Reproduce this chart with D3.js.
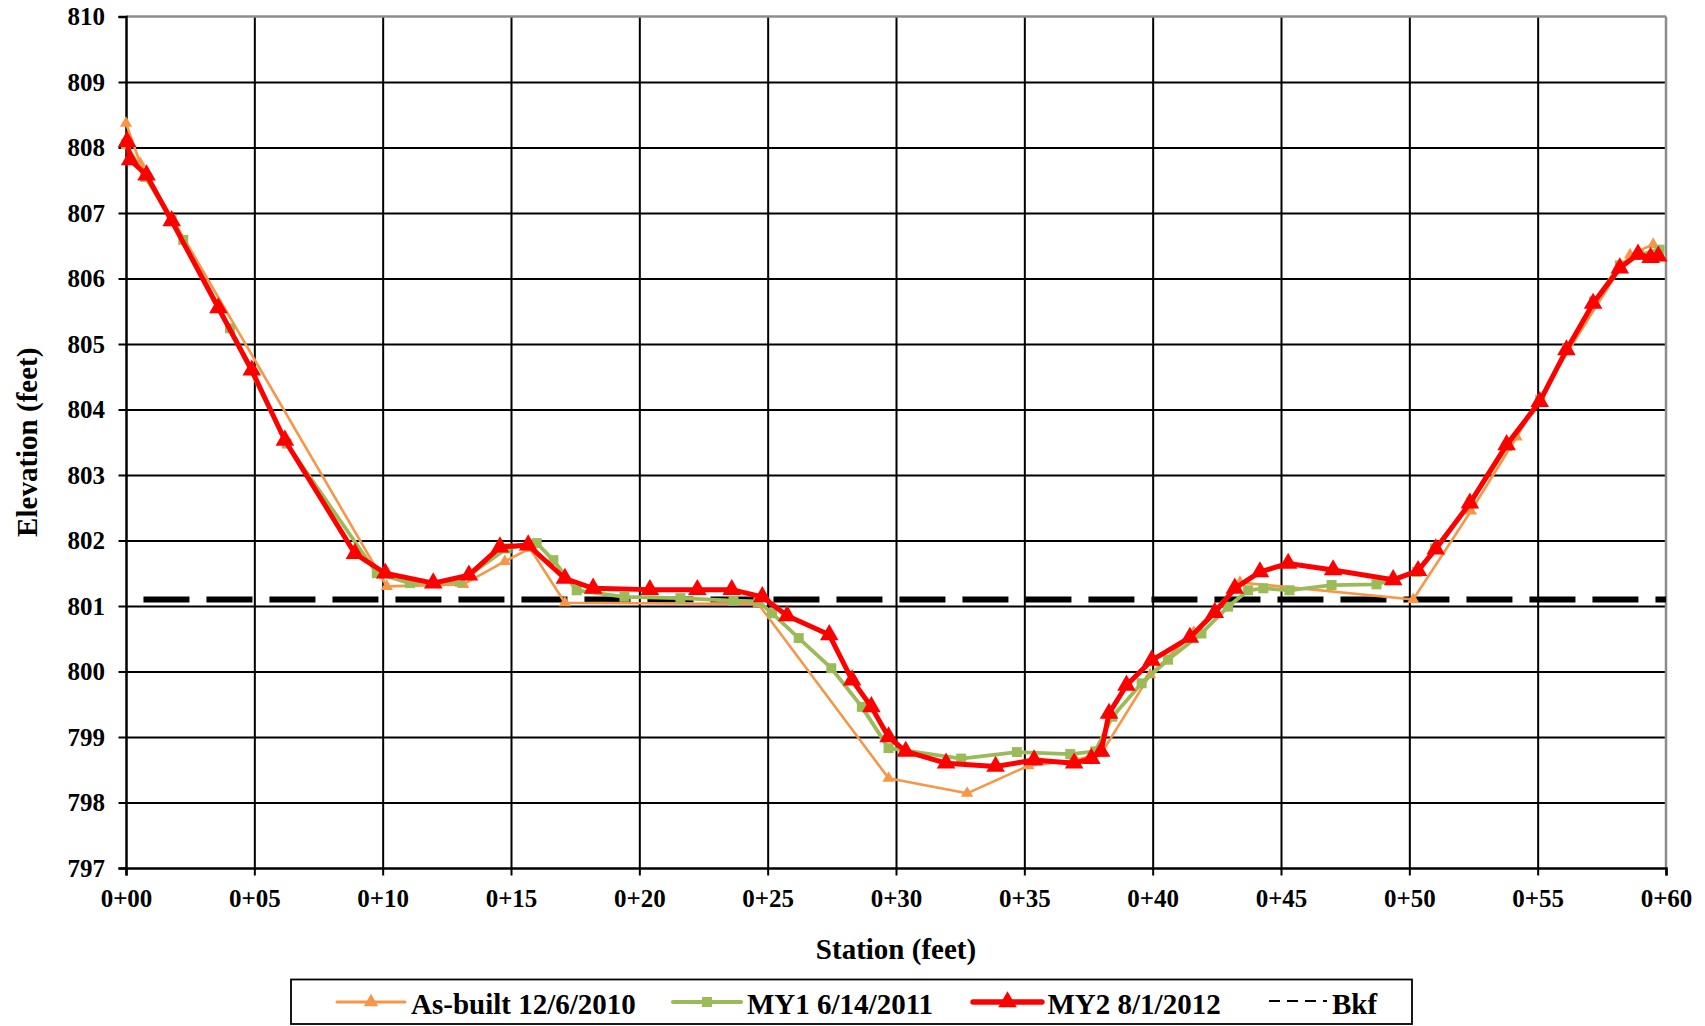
<!DOCTYPE html>
<html><head><meta charset="utf-8">
<script src="https://cdn.jsdelivr.net/npm/d3@7"></script>
<style>
body{margin:0;background:#fff}
svg{display:block}
text{font-family:"Liberation Serif","Times New Roman",serif !important;font-weight:bold;fill:#000}
</style>
</head><body>
<svg id="c" width="1705" height="1026"></svg>
<script>
// ---------------- data ----------------
const xTicks = [0,5,10,15,20,25,30,35,40,45,50,55,60];
const xTickLabels = ["0+00","0+05","0+10","0+15","0+20","0+25","0+30","0+35","0+40","0+45","0+50","0+55","0+60"];
const yTicks = [797,798,799,800,801,802,803,804,805,806,807,808,809,810];
const yTickLabels = ["797","798","799","800","801","802","803","804","805","806","807","808","809","810"];

const seriesNames = ["As-built 12/6/2010","MY1 6/14/2011","MY2 8/1/2012","Bkf"];

const asBuiltStation = [0,0.55,10.16,13.14,14.76,15.74,17.1,24.64,29.71,32.77,35.15,37.0,38.0,39.9,41.6,43.4,50.15,52.4,54.18,56.2,58.2,58.6,59.5];
const asBuiltElev    = [808.37,807.76,801.3,801.33,801.68,801.88,801.05,801.03,798.37,798.14,798.56,798.65,798.75,799.95,800.6,801.36,801.1,802.45,803.58,804.9,806.15,806.36,806.52];

const my1Station = [0,0.75,1.78,2.23,4.05,6.26,9.77,11.06,13.01,14.83,16.0,16.65,17.56,19.42,21.6,23.67,24.64,25.17,26.21,27.48,28.67,29.71,32.54,34.71,36.79,37.76,38.43,39.57,40.6,41.9,42.94,43.72,44.31,45.33,46.97,48.72,50.3,51.0,52.4,53.8,55.1,56.15,57.2,58.2,58.95,59.75];
const my1Elev    = [808.05,807.55,806.9,806.59,805.24,803.48,801.5,801.35,801.37,801.88,801.96,801.7,801.24,801.14,801.12,801.08,801.07,800.89,800.51,800.05,799.46,798.83,798.67,798.77,798.74,798.78,799.31,799.82,800.18,800.58,800.99,801.24,801.27,801.24,801.32,801.33,801.52,801.88,802.58,803.44,804.15,804.93,805.65,806.2,806.36,806.44];

const my2Station = [0.04,0.16,0.8,1.78,3.6,4.9,6.19,8.92,10.1,11.97,13.36,14.57,15.67,17.1,18.2,20.41,22.26,23.6,24.79,25.76,27.4,28.29,29.04,29.71,30.38,31.95,33.88,35.38,36.94,37.61,37.99,38.3,38.98,39.96,41.45,42.42,43.2,44.18,45.28,47.03,49.37,50.34,51.03,52.36,53.79,55.08,56.12,57.16,58.2,58.91,59.4,59.7];
const my2Elev    = [808.09,807.81,807.58,806.88,805.55,804.6,803.53,801.8,801.5,801.35,801.47,801.9,801.93,801.42,801.27,801.25,801.25,801.25,801.14,800.85,800.56,799.87,799.46,799.0,798.78,798.6,798.55,798.65,798.6,798.67,798.78,799.36,799.79,800.17,800.52,800.9,801.27,801.52,801.65,801.55,801.4,801.54,801.87,802.57,803.46,804.12,804.91,805.62,806.16,806.37,806.32,806.34];

const bkfStation = [0.68,60];
const bkfElev    = [801.1,801.1];

// ---------------- chart ----------------
const FONT = '"Liberation Serif","Times New Roman",serif';
const svg = d3.select("#c");
const L=126, R=1666, T=16.5, B=868;
const x = d3.scaleLinear().domain([0,60]).range([L,R]);
const y = d3.scaleLinear().domain([797,810]).range([B,T]);

// vertical gridlines
const gx = svg.append("g").attr("transform",`translate(0,${B})`)
  .call(d3.axisBottom(x).tickValues(xTicks.slice(1,-1)).tickSize(-(B-T)).tickFormat(""));
gx.select(".domain").remove();
gx.selectAll("line").attr("stroke","#000").attr("stroke-width",2);

// horizontal gridlines
const gy = svg.append("g").attr("transform",`translate(${L},0)`)
  .call(d3.axisLeft(y).tickValues(yTicks.slice(1,-1)).tickSize(-(R-L)).tickFormat(""));
gy.select(".domain").remove();
gy.selectAll("line").attr("stroke","#000").attr("stroke-width",2);

// plot border top/right (gray)
svg.append("line").attr("x1",L).attr("x2",R).attr("y1",T).attr("y2",T).attr("stroke","#8c8c8c").attr("stroke-width",2.5);
svg.append("line").attr("x1",R).attr("x2",R).attr("y1",T).attr("y2",B).attr("stroke","#8c8c8c").attr("stroke-width",2.5);

// axes
const ax = svg.append("g").attr("transform",`translate(0,${B})`)
  .call(d3.axisBottom(x).tickValues(xTicks).tickSize(7.5).tickPadding(14).tickFormat((d,i)=>xTickLabels[i]));
ax.attr("font-family",FONT).attr("font-size",25).attr("font-weight","bold");
ax.select(".domain").attr("stroke","#000").attr("stroke-width",2.5);
ax.selectAll("line").attr("stroke","#000").attr("stroke-width",2);
ax.selectAll("text").attr("font-size",25).attr("font-family",FONT);

const ay = svg.append("g").attr("transform",`translate(${L},0)`)
  .call(d3.axisLeft(y).tickValues(yTicks).tickSize(7.5).tickPadding(13.5).tickFormat((d,i)=>yTickLabels[i]));
ay.attr("font-family",FONT).attr("font-size",25).attr("font-weight","bold");
ay.select(".domain").attr("stroke","#000").attr("stroke-width",2.5);
ay.selectAll("line").attr("stroke","#000").attr("stroke-width",2);
ay.selectAll("text").attr("font-size",25).attr("font-family",FONT);

// axis titles
svg.append("text").attr("x",(L+R)/2).attr("y",959).attr("text-anchor","middle").attr("font-size",29).text("Station (feet)");
svg.append("text").attr("transform",`translate(36.5,${(T+B)/2}) rotate(-90)`).attr("text-anchor","middle").attr("font-size",29).text("Elevation (feet)");

const line = d3.line().x(d=>x(d[0])).y(d=>y(d[1]));
const zip = (a,b)=>a.map((v,i)=>[v,b[i]]);

// Bkf
svg.append("path").datum(zip(bkfStation,bkfElev)).attr("d",line)
  .attr("fill","none").attr("stroke","#000").attr("stroke-width",6).attr("stroke-dasharray","46,17");

const series = [
  {pts:zip(asBuiltStation,asBuiltElev), color:"#F79646", w:2.6, sym:d3.symbolTriangle, size:65},
  {pts:zip(my1Station,my1Elev), color:"#9BBB59", w:3.8, sym:d3.symbolSquare, size:100},
  {pts:zip(my2Station,my2Elev), color:"#FF0000", w:5, sym:d3.symbolTriangle, size:150}
];
series.forEach(s=>{
  const g = svg.append("g");
  g.append("path").datum(s.pts).attr("d",line).attr("fill","none")
    .attr("stroke",s.color).attr("stroke-width",s.w).attr("stroke-linejoin","round");
  g.selectAll("path.m").data(s.pts).join("path").attr("class","m")
    .attr("transform",d=>`translate(${x(d[0])},${y(d[1])})`)
    .attr("d",d3.symbol().type(s.sym).size(s.size)).attr("fill",s.color);
});

// legend
const lg = svg.append("g");
lg.append("rect").attr("x",291).attr("y",979.5).attr("width",1121).attr("height",44.5)
  .attr("fill","#fff").attr("stroke","#000").attr("stroke-width",1.8);
const legItems = [
  {x0:337,x1:405,tx:411,s:series[0],ms:90},
  {x0:673,x1:741,tx:747,s:series[1],ms:100},
  {x0:973,x1:1042,tx:1047.5,s:series[2],ms:150}
];
const ly = 1002;
legItems.forEach((it,i)=>{
  lg.append("line").attr("x1",it.x0).attr("x2",it.x1).attr("y1",ly).attr("y2",ly)
    .attr("stroke",it.s.color).attr("stroke-width",it.s.w+0.4).attr("stroke-linecap","round");
  lg.append("path").attr("transform",`translate(${(it.x0+it.x1)/2},${ly})`)
    .attr("d",d3.symbol().type(it.s.sym).size(it.ms)).attr("fill",it.s.color);
  lg.append("text").attr("x",it.tx).attr("y",1014).attr("font-size",29).text(seriesNames[i]);
});
lg.append("line").attr("x1",1269).attr("x2",1327).attr("y1",ly-1).attr("y2",ly-1)
  .attr("stroke","#000").attr("stroke-width",1.8).attr("stroke-dasharray","11,7");
lg.append("text").attr("x",1332).attr("y",1014).attr("font-size",29).text(seriesNames[3]);
</script>
</body></html>
